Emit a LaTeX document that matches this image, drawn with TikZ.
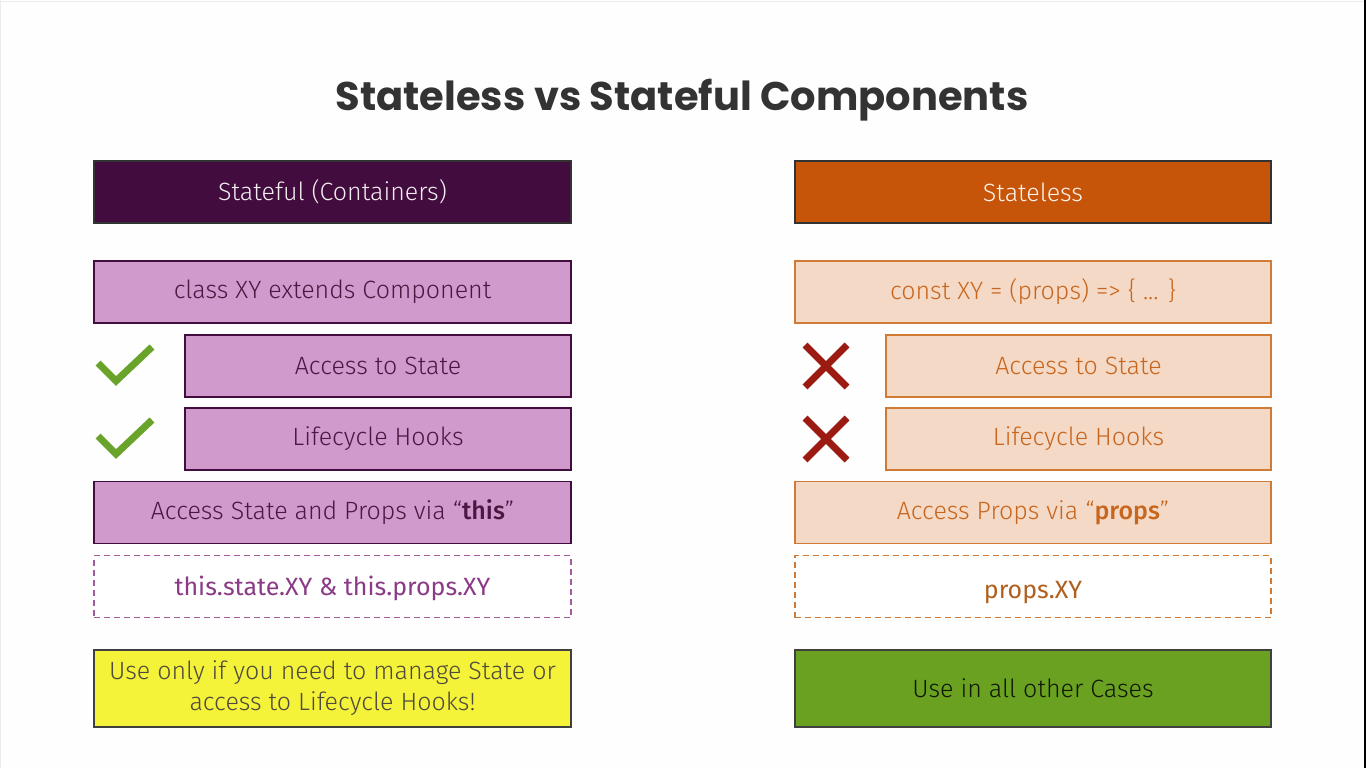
\documentclass[tikz,border=0pt]{standalone}
\usepackage{fontspec}
\setmainfont{Fira Sans Light}[BoldFont={Fira Sans Medium}]
\newfontfamily\medfont{Fira Sans}
\newfontfamily\titlefont{Poppins}[BoldFont={Poppins Bold}]
\definecolor{darkpurple}{HTML}{430C3E}
\definecolor{lightpurple}{HTML}{D09ACC}
\definecolor{purpletext}{HTML}{4A1942}
\definecolor{dashpurple}{HTML}{A25C9E}
\definecolor{dashpurpletext}{HTML}{8A3A86}
\definecolor{darkorange}{HTML}{C75509}
\definecolor{lightorange}{HTML}{F4D9C6}
\definecolor{orangeborder}{HTML}{CF7A35}
\definecolor{orangetext}{HTML}{C8661E}
\definecolor{dashorangetext}{HTML}{B0601C}
\definecolor{yellowfill}{HTML}{F5F23A}
\definecolor{greenfill}{HTML}{6AA121}
\definecolor{checkgreen}{HTML}{6AA329}
\definecolor{crossred}{HTML}{9B1B12}
\definecolor{titlegray}{HTML}{333333}
\tikzset{
  box/.style={rectangle, line width=1.5pt, inner sep=0pt, minimum height=62pt, font=\fontsize{25}{31}\selectfont, align=center},
  bigL/.style={box, minimum width=477pt},
  smallL/.style={box, minimum width=386pt},
  bigR/.style={box, minimum width=476pt},
  smallR/.style={box, minimum width=385pt},
  lhead/.style={fill=darkpurple, draw=black!80, text=white!92!darkpurple},
  rhead/.style={fill=darkorange, draw=black!80, text=white!92!darkorange},
  lbox/.style={fill=lightpurple, draw=darkpurple, text=purpletext},
  rbox/.style={fill=lightorange, draw=orangeborder, text=orangetext},
  ldash/.style={fill=white, draw=dashpurple, dash pattern=on 6pt off 4pt, text=dashpurpletext},
  rdash/.style={fill=white, draw=orangeborder, dash pattern=on 6pt off 4pt, text=dashorangetext},
  checkmark/.style={draw=checkgreen, line width=7pt, line cap=butt, line join=miter},
  crossmark/.style={draw=crossred, line width=7pt},
}
\begin{document}
\begin{tikzpicture}[x=1pt,y=-1pt]
\fill[white!99.5!black] (0,0) rectangle (1366,768);
\useasboundingbox (0,0) rectangle (1366,768);
\fill[black] (1364,0) rectangle (1366,768);
\draw[black!8] (0.5,0) -- (0.5,768);
\draw[black!8] (0,1) -- (1364,1);

\node[text=titlegray, font=\titlefont\bfseries\fontsize{40}{44}\selectfont] (title) at (682,100) {Stateless vs Stateful Components};

% left column
\node[bigL, lhead] (lh) at (332.5,192) {Stateful (Containers)};
\node[bigL, lbox] (l1) at (332.5,292) {class XY extends Component};
\node[smallL, lbox] (l2) at (378,366) {Access to State};
\node[smallL, lbox] (l3) at (378,439) {Lifecycle Hooks};
\node[bigL, lbox] (l4) at (332.5,512.5) {Access State and Props via “\textbf{this}”};
\node[bigL, ldash, label={[text=dashpurpletext, font=\medfont\fontsize{25}{31}\selectfont, yshift=-2pt]center:this.state.XY \& this.props.XY}] (l5) at (332.5,586.5) {};
\node[bigL, fill=yellowfill, draw=black!75, text=black!80!yellow, minimum height=77pt] (l6) at (332.5,688.5) {Use only if you need to manage State or\\access to Lifecycle Hooks!};

% right column
\node[bigR, rhead] (rh) at (1033,192) {Stateless};
\node[bigR, rbox] (r1) at (1033,292) {const XY = (props) => \{ ... \}};
\node[smallR, rbox] (r2) at (1078.5,366) {Access to State};
\node[smallR, rbox] (r3) at (1078.5,439) {Lifecycle Hooks};
\node[bigR, rbox] (r4) at (1033,512.5) {Access Props via “\textbf{props}”};
\node[bigR, rdash, label={[text=dashorangetext, font=\medfont\fontsize{25}{31}\selectfont, yshift=-6pt]center:props.XY}] (r5) at (1033,586.5) {};
\node[bigR, fill=greenfill, draw=black!75, text=black!85!greenfill, minimum height=77pt] (r6) at (1033,688.5) {Use in all other Cases};

% marks
\draw[checkmark] (98,363) -- (116,381) -- (152,347);
\draw[checkmark] (98,436) -- (116,454) -- (152,420);
\draw[crossmark] (805,345) -- (847,387) (805,387) -- (847,345);
\draw[crossmark] (805,418) -- (847,460) (805,460) -- (847,418);
\end{tikzpicture}
\end{document}
